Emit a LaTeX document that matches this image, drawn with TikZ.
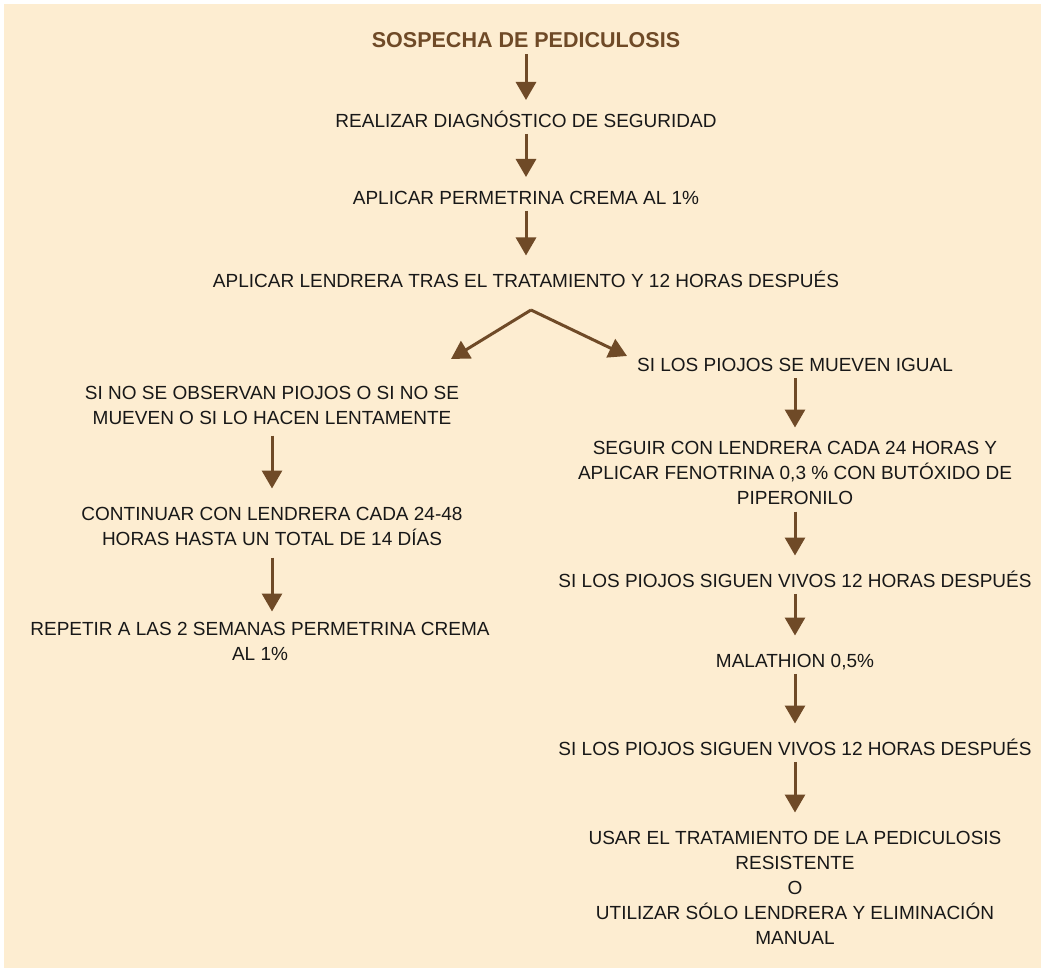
\documentclass[tikz,border=0pt]{standalone}
\usepackage{fontspec}
\setmainfont{Liberation Sans}
\usetikzlibrary{arrows.meta}
\definecolor{cream}{RGB}{253,237,209}
\definecolor{brownish}{RGB}{111,74,39}
\definecolor{ink}{RGB}{24,24,24}
\tikzstyle{title} = [anchor=north, align=center, inner sep=0pt, text=brownish, font=\fontsize{21.5}{25}\selectfont\bfseries, execute at begin node=\strut, execute at end node=\strut]
\tikzstyle{txt} = [anchor=north, align=center, inner sep=0pt, text=ink, font=\fontsize{19}{25}\selectfont, execute at begin node=\strut, execute at end node=\strut]
\tikzstyle{arrow} = [line width=3pt, draw=brownish, -{Triangle[width=20pt,length=18pt]}]
\tikzstyle{flow} = [arrow, shorten <=-1pt, shorten >=14pt]

\begin{document}
\begin{tikzpicture}[x=1pt, y=-1pt]
\useasboundingbox (0,0) rectangle (1041,968);
\fill [cream] (4,4) rectangle (1041,968);

\node (sospecha) [title] at (526,30) {SOSPECHA DE PEDICULOSIS};
\node (diagnostico) [txt] at (526,109.5) {REALIZAR DIAGNÓSTICO DE SEGURIDAD};
\node (permetrina) [txt] at (526,186.5) {APLICAR PERMETRINA CREMA AL 1\%};
\node (lendrera) [txt] at (526,269.5) {APLICAR LENDRERA TRAS EL TRATAMIENTO Y 12 HORAS DESPUÉS};

\coordinate (split) at (531,310);
\coordinate (izq) at (451,359);
\coordinate (der) at (627,356);

% rama izquierda
\node (noobs) [txt] at (272,386.5) {SI NO SE OBSERVAN PIOJOS O SI NO SE\\MUEVEN O SI LO HACEN LENTAMENTE};
\node (continuar) [txt] at (272,507.5) {CONTINUAR CON LENDRERA CADA 24-48\\HORAS HASTA UN TOTAL DE 14 DÍAS};
\node (repetir) [txt] at (260,622.5) {REPETIR A LAS 2 SEMANAS PERMETRINA CREMA\\AL 1\%};

% rama derecha
\node (mueven) [txt] at (795,354) {SI LOS PIOJOS SE MUEVEN IGUAL};
\node (seguir) [txt] at (795,441.5) {SEGUIR CON LENDRERA CADA 24 HORAS Y\\APLICAR FENOTRINA 0,3 \% CON BUTÓXIDO DE\\PIPERONILO};
\node (vivos) [txt] at (795,569.5) {SI LOS PIOJOS SIGUEN VIVOS 12 HORAS DESPUÉS};
\node (malathion) [txt] at (795,649.5) {MALATHION 0,5\%};
\node (vivosdos) [txt] at (795,737.5) {SI LOS PIOJOS SIGUEN VIVOS 12 HORAS DESPUÉS};
\node (usar) [txt] at (795,831.5) {USAR EL TRATAMIENTO DE LA PEDICULOSIS\\RESISTENTE\\O\\UTILIZAR SÓLO LENDRERA Y ELIMINACIÓN\\MANUAL};

\draw [flow, shorten >=9.5pt] (sospecha) -- (diagnostico);
\draw [flow, shorten >=9.5pt] (diagnostico) -- (permetrina);
\draw [flow] (permetrina) -- (lendrera);
\draw [arrow] (split) -- (izq);
\draw [arrow] (split) -- (der);
\draw [flow, shorten <=3pt, shorten >=19pt] (noobs) -- (continuar);
\draw [flow, shorten <=4pt, shorten >=11pt] (continuar) -- (continuar |- repetir.north);
\draw [flow] (mueven) -- (seguir);
\draw [flow] (seguir) -- (vivos);
\draw [flow] (vivos) -- (malathion);
\draw [flow] (malathion) -- (vivosdos);
\draw [flow, shorten >=19pt] (vivosdos) -- (usar);

\end{tikzpicture}
\end{document}
